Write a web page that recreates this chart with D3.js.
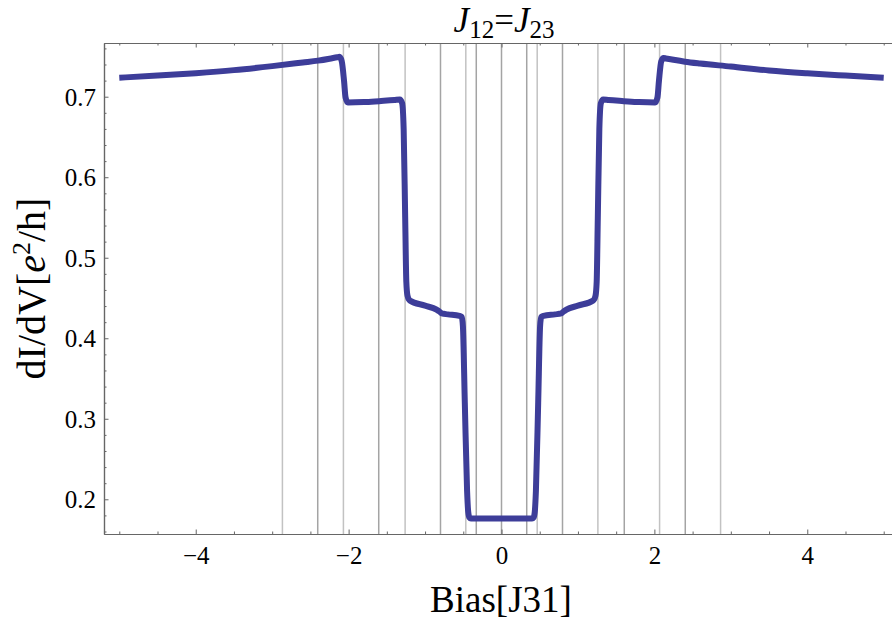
<!DOCTYPE html>
<html>
<head>
<meta charset="utf-8">
<script src="https://cdn.jsdelivr.net/npm/d3@7"></script>
<style>
  html, body { margin: 0; padding: 0; background: #fff; }
  svg { display: block; font-family: "Liberation Serif", "Times New Roman", serif; }
</style>
</head>
<body>
<svg id="chart" width="892" height="622"></svg>
<script>
// Differential conductance vs bias, J12 = J23
const bias = [
  -5.0, -4.5, -4.0, -3.5, -3.0, -2.6, -2.4, -2.25, -2.15, -2.12, -2.09, -2.06, -2.04, -2.01,
  -1.8, -1.6, -1.4, -1.33, -1.30, -1.28, -1.26, -1.245, -1.23, -1.20, -1.0, -0.85, -0.81, -0.78,
  -0.70, -0.55, -0.52, -0.505, -0.48, -0.45, -0.435, -0.42, -0.40,
  0.0,
  0.40, 0.42, 0.435, 0.45, 0.48, 0.505, 0.52, 0.55, 0.70, 0.78, 0.81, 0.85, 1.0, 1.20, 1.23,
  1.245, 1.26, 1.28, 1.30, 1.33, 1.4, 1.6, 1.8, 2.01, 2.04, 2.06, 2.09, 2.12, 2.15, 2.25, 2.4,
  2.6, 3.0, 3.5, 4.0, 4.5, 5.0
];
const dIdV = [
  0.7236, 0.7262, 0.7292, 0.7330, 0.7380, 0.7425, 0.7448, 0.7472, 0.7490, 0.7495, 0.7440, 0.7200, 0.6990, 0.6928,
  0.6933, 0.6945, 0.6958, 0.6965, 0.6920, 0.6600, 0.5500, 0.4700, 0.4530, 0.4470, 0.4405, 0.4355, 0.4330, 0.4308,
  0.4297, 0.4278, 0.4265, 0.4150, 0.3200, 0.2100, 0.1840, 0.1775, 0.1762,
  0.1762,
  0.1762, 0.1775, 0.1840, 0.2100, 0.3200, 0.4150, 0.4265, 0.4278, 0.4297, 0.4308, 0.4330, 0.4355, 0.4405, 0.4470, 0.4530,
  0.4700, 0.5500, 0.6600, 0.6920, 0.6965, 0.6958, 0.6945, 0.6933, 0.6928, 0.6990, 0.7200, 0.7440, 0.7480, 0.7475, 0.7458, 0.7435,
  0.7412, 0.7375, 0.7325, 0.7290, 0.7262, 0.7236
];

// Level positions marked as vertical guide lines
const levelsStrong = [-2.404, -1.606, -0.798, -0.330, 0, 0.330, 0.798, 1.606, 2.404];
const levelsFaint  = [-2.866, -2.068, -1.261, -0.467, 0.467, 1.261, 2.068, 2.866];

const xMajorTicks = [-4, -2, 0, 2, 4];
const yMajorTicks = [0.2, 0.3, 0.4, 0.5, 0.6, 0.7];

const svg = d3.select("#chart");
const W = 892, H = 622;
const margin = { left: 104, top: 43, bottom: 88 };
const plotRight = 899; // frame extends just past the canvas edge

const x = d3.scaleLinear().domain([-5.2, 5.2]).range([margin.left, plotRight]);
const y = d3.scaleLinear().domain([0.1569, 0.7667]).range([H - margin.bottom, margin.top]);

const frameColor = "#666";

// guide lines
const g = svg.append("g");
g.selectAll("line.faint").data(levelsFaint).join("line")
  .attr("class", "faint")
  .attr("x1", d => x(d)).attr("x2", d => x(d))
  .attr("y1", y.range()[0]).attr("y2", y.range()[1])
  .attr("stroke", "#c2c2c2").attr("stroke-width", 1.5);
g.selectAll("line.strong").data(levelsStrong).join("line")
  .attr("class", "strong")
  .attr("x1", d => x(d)).attr("x2", d => x(d))
  .attr("y1", y.range()[0]).attr("y2", y.range()[1])
  .attr("stroke", "#a4a4a4").attr("stroke-width", 1.5);

// frame axes with inward ticks
const xMinor = d3.range(-5, 5.01, 0.5).filter(v => !xMajorTicks.some(t => Math.abs(t - v) < 1e-9));
const yMinor = d3.range(0.16, 0.767, 0.02).filter(v => !yMajorTicks.some(t => Math.abs(t - v) < 1e-9));

function frameAxis(axis, transform) {
  const a = svg.append("g").attr("transform", transform).call(axis);
  a.select(".domain").attr("stroke", frameColor).attr("stroke-width", 1.2);
  a.selectAll(".tick line").attr("stroke", frameColor).attr("stroke-width", 1);
  return a;
}

// bottom
frameAxis(d3.axisBottom(x).tickValues(xMinor).tickSizeInner(-2.5).tickSizeOuter(0).tickFormat(""),
  `translate(0,${y.range()[0]})`);
const bx = frameAxis(d3.axisBottom(x).tickValues(xMajorTicks).tickSizeInner(-4.5).tickSizeOuter(0)
  .tickPadding(0).tickFormat(d => d < 0 ? "\u2212" + Math.abs(d) : d), `translate(0,${y.range()[0]})`);
bx.selectAll(".tick text").attr("font-size", 25).attr("fill", "#000")
  .attr("font-family", "Liberation Serif, serif").attr("y", 30).attr("dy", 0);

// top
frameAxis(d3.axisTop(x).tickValues(xMinor).tickSizeInner(-2.5).tickSizeOuter(0).tickFormat(""),
  `translate(0,${y.range()[1]})`);
frameAxis(d3.axisTop(x).tickValues(xMajorTicks).tickSizeInner(-4.5).tickSizeOuter(0).tickFormat(""),
  `translate(0,${y.range()[1]})`);

// left
frameAxis(d3.axisLeft(y).tickValues(yMinor).tickSizeInner(-2.5).tickSizeOuter(0).tickFormat(""),
  `translate(${margin.left},0)`);
const ly = frameAxis(d3.axisLeft(y).tickValues(yMajorTicks).tickSizeInner(-4.5).tickSizeOuter(0)
  .tickFormat(d3.format(".1f")), `translate(${margin.left},0)`);
ly.selectAll(".tick text").attr("font-size", 25).attr("fill", "#000")
  .attr("font-family", "Liberation Serif, serif").attr("x", -8).attr("dy", "0.34em");

// conductance curve
const pts = bias.map((b, i) => [b, dIdV[i]]);
svg.append("path")
  .datum(pts)
  .attr("fill", "none")
  .attr("stroke", "#3d3d99")
  .attr("stroke-width", 6)
  .attr("stroke-linejoin", "round")
  .attr("stroke-linecap", "butt")
  .attr("d", d3.line().x(d => x(d[0])).y(d => y(d[1])).curve(d3.curveMonotoneX));

// title
const title = svg.append("text").attr("x", 504).attr("y", 32).attr("text-anchor", "middle")
  .attr("font-size", 35).attr("fill", "#000");
title.append("tspan").attr("font-style", "italic").text("J");
title.append("tspan").attr("font-size", 25).attr("dy", 6).text("12");
title.append("tspan").attr("dy", -6).text("=");
title.append("tspan").attr("font-style", "italic").text("J");
title.append("tspan").attr("font-size", 25).attr("dy", 6).text("23");

// x label
svg.append("text").attr("x", 501).attr("y", 612).attr("text-anchor", "middle")
  .attr("font-size", 37).attr("fill", "#000").text("Bias[J31]");

// y label
const yl = svg.append("text").attr("transform", `translate(45,${(y.range()[0] + y.range()[1]) / 2}) rotate(-90)`)
  .attr("text-anchor", "middle").attr("font-size", 40).attr("fill", "#000");
yl.append("tspan").text("dI/dV[");
yl.append("tspan").attr("font-style", "italic").text("e");
yl.append("tspan").attr("font-size", 26).attr("dy", -15).text("2");
yl.append("tspan").attr("dy", 15).text("/h]");
</script>
</body>
</html>
